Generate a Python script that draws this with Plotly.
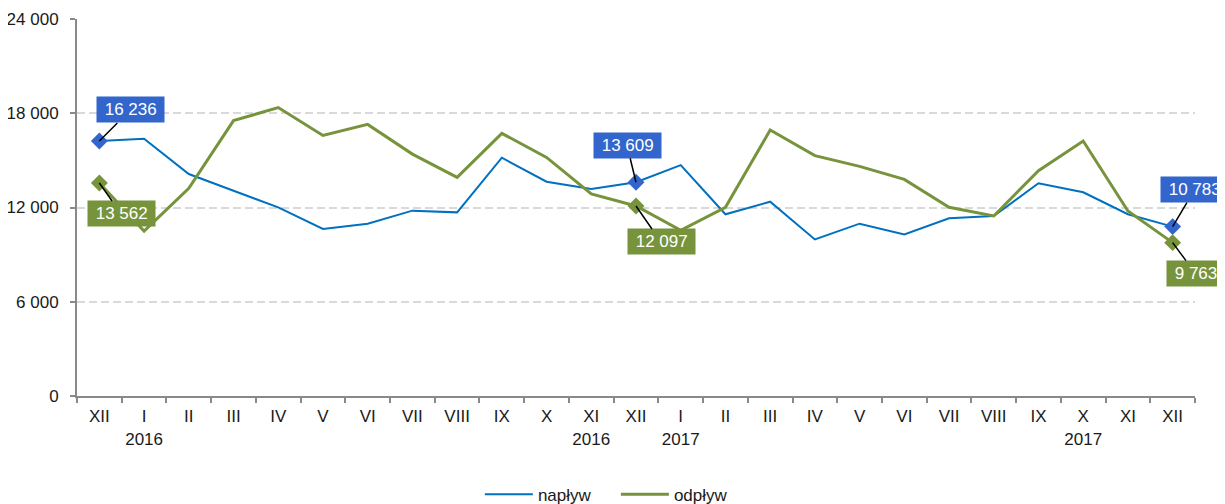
import plotly.graph_objects as go

months = ["XII", "I", "II", "III", "IV", "V", "VI", "VII", "VIII", "IX", "X", "XI", "XII",
          "I", "II", "III", "IV", "V", "VI", "VII", "VIII", "IX", "X", "XI", "XII"]
years = [2015] + [2016] * 12 + [2017] * 12
# year captions shown under selected ticks (as in the original)
year_caption = {1: "2016", 11: "2016", 13: "2017", 22: "2017"}

naplyw = [16236, 16380, 14130, 13050, 12010, 10630, 10970, 11800, 11690, 15170, 13640, 13180, 13609,
          14700, 11570, 12370, 9970, 10970, 10290, 11310, 11460, 13540, 12970, 11570, 10783]
odplyw = [13562, 10500, 13220, 17530, 18360, 16590, 17290, 15400, 13920, 16720, 15190, 12860, 12097,
          10550, 12010, 16930, 15300, 14620, 13790, 12010, 11460, 14340, 16230, 11780, 9763]

labelled = [0, 12, 24]

cats = [f"{m} {y}" for m, y in zip(months, years)]
ticktext = [m + ("<br>" + year_caption[i] if i in year_caption else "") for i, m in enumerate(months)]

BLUE_LINE = "#0070C0"
BLUE_BOX = "#3366CC"
GREEN = "#77933C"
FONT = "Liberation Sans, Arial, sans-serif"

fig = go.Figure()
fig.add_trace(go.Scatter(x=cats, y=naplyw, mode="lines", name="napływ",
                         line=dict(color=BLUE_LINE, width=2)))
fig.add_trace(go.Scatter(x=cats, y=odplyw, mode="lines", name="odpływ",
                         line=dict(color=GREEN, width=3)))
fig.add_trace(go.Scatter(x=[cats[i] for i in labelled], y=[naplyw[i] for i in labelled],
                         mode="markers", showlegend=False,
                         marker=dict(symbol="diamond", size=13, color=BLUE_BOX)))
fig.add_trace(go.Scatter(x=[cats[i] for i in labelled], y=[odplyw[i] for i in labelled],
                         mode="markers", showlegend=False,
                         marker=dict(symbol="diamond", size=13, color=GREEN)))

def fmt(v):
    return "\u00a0" + f"{v:,}".replace(",", " ") + "\u00a0"

offsets_blue = {0: (31, -31), 12: (-9, -37), 24: (22, -37)}
offsets_green = {0: (22, 31), 12: (25, 36), 24: (23, 31)}
for i in labelled:
    ax, ay = offsets_blue[i]
    fig.add_annotation(x=cats[i], y=naplyw[i], text=fmt(naplyw[i]), showarrow=True,
                       arrowhead=0, arrowwidth=1.5, arrowcolor="black", ax=ax, ay=ay,
                       bgcolor=BLUE_BOX, borderpad=3, font=dict(color="white", size=17, family=FONT))
    ax, ay = offsets_green[i]
    fig.add_annotation(x=cats[i], y=odplyw[i], text=fmt(odplyw[i]), showarrow=True,
                       arrowhead=0, arrowwidth=1.5, arrowcolor="black", ax=ax, ay=ay,
                       bgcolor=GREEN, borderpad=3, font=dict(color="white", size=17, family=FONT))

# the page places the figure 8px from the top-left corner; margins compensate for that
fig.update_layout(
    width=1225, height=504,
    margin=dict(l=69, r=38, t=11, b=116, autoexpand=False),
    plot_bgcolor="white", paper_bgcolor="white",
    font=dict(family=FONT, size=17, color="#1a1a1a"),
    showlegend=True,
    legend=dict(orientation="h", x=0.482, xanchor="center", y=-0.262, yanchor="middle",
                font=dict(size=17), itemwidth=48, entrywidth=73),
)
fig.update_xaxes(type="category", categoryorder="array", categoryarray=cats,
                 tickvals=cats, ticktext=ticktext, tickson="boundaries",
                 ticks="outside", ticklen=5, tickcolor="#898989", tickwidth=1.5,
                 showline=True, linecolor="#898989", linewidth=2, showgrid=False,
                 tickangle=0, range=[-0.5, 24.5], automargin=False, ticklabelstandoff=4)
fig.update_yaxes(range=[0, 24000], tickvals=[0, 6000, 12000, 18000, 24000],
                 ticktext=["0", "6 000", "12 000", "18 000", "24 000"],
                 ticks="outside", ticklen=5, tickcolor="#898989", tickwidth=1.5,
                 showline=True, linecolor="#898989", linewidth=2,
                 showgrid=True, gridcolor="#D9D9D9", gridwidth=2, griddash="8px,4px",
                 zeroline=False, automargin=False, ticklabelstandoff=8)

fig.write_html("out.html")
